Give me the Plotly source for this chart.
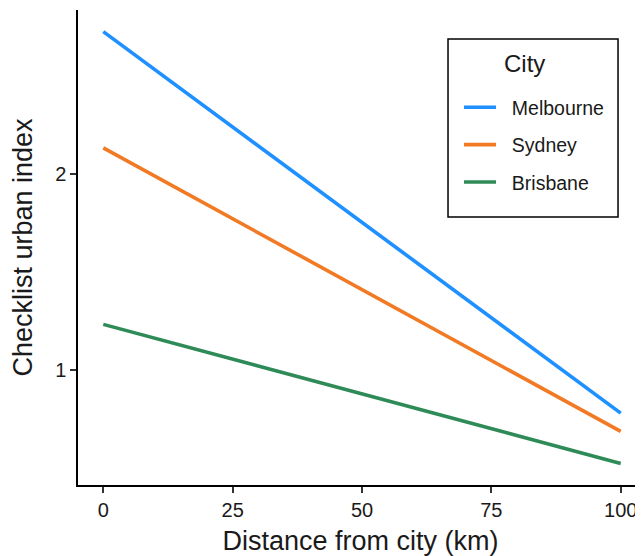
import plotly.graph_objects as go

cities = ["Melbourne", "Sydney", "Brisbane"]
distance_km = [0, 100]
melbourne = [2.723, 0.780]
sydney = [2.131, 0.687]
brisbane = [1.232, 0.524]
colors = ["#1E90FF", "#F27A24", "#2E8B57"]
x_ticks = [0, 25, 50, 75, 100]
y_ticks = [1, 2]
legend_title = "City"

series = [melbourne, sydney, brisbane]

fig = go.Figure()
for i, (name, vals, col) in enumerate(zip(cities, series, colors)):
    fig.add_trace(go.Scatter(
        x=distance_km, y=vals, mode="lines", name="\u00a0\u00a0" + name,
        line=dict(color=col, width=3.6), legendgroup=f"g{i}",
    ))

font_family = "Liberation Sans, Arial, sans-serif"
txt = "#1a1a1a"

# legend frame and title (paper coordinates)
fig.add_shape(type="rect", xref="paper", yref="paper",
              x0=0.6549, x1=0.9558, y0=0.5642, y1=0.9389,
              line=dict(color="black", width=1.5), fillcolor="white", layer="below")
fig.add_annotation(text=legend_title, xref="paper", yref="paper",
                   x=0.7894, y=0.8884, xanchor="center", yanchor="middle",
                   showarrow=False, font=dict(size=24, color=txt, family=font_family))

fig.update_layout(
    width=635, height=548,
    margin=dict(l=70, r=0, t=2, b=71),
    plot_bgcolor="white", paper_bgcolor="white",
    font=dict(family=font_family, color=txt),
    showlegend=True,
    legend=dict(
        x=0.6743, y=0.8356, xanchor="left", yanchor="top",
        borderwidth=0, bgcolor="rgba(0,0,0,0)",
        font=dict(size=19.5, color=txt),
        tracegroupgap=9, itemwidth=32,
    ),
    xaxis=dict(
        range=[-4.89, 104.31], tickvals=x_ticks, ticks="outside", ticklen=6,
        tickwidth=1.5, tickcolor="#333", showline=True, linecolor="black",
        linewidth=1.5, showgrid=False, zeroline=False,
        tickfont=dict(size=20, color=txt),
        title=dict(text="Distance from city (km)", font=dict(size=27, color=txt), standoff=11),
    ),
    yaxis=dict(
        range=[0.414, 2.833], tickvals=y_ticks, ticks="outside", ticklen=6,
        tickwidth=1.5, tickcolor="#333", showline=True, linecolor="black",
        linewidth=1.5, showgrid=False, zeroline=False,
        tickfont=dict(size=20, color=txt),
        title=dict(text="Checklist urban index", font=dict(size=27, color=txt), standoff=16),
    ),
)

fig.write_html("out.html")
